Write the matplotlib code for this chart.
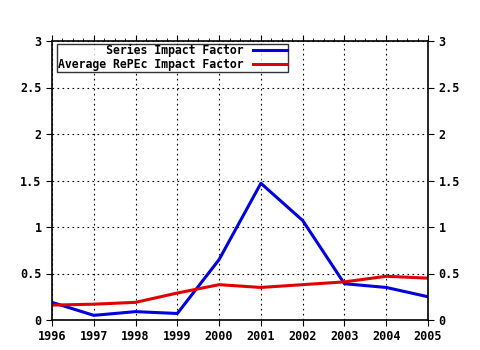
import matplotlib.pyplot as plt
from matplotlib.ticker import MultipleLocator, FormatStrFormatter

years = [1996, 1997, 1998, 1999, 2000, 2001, 2002, 2003, 2004, 2005]
series_if = [0.19, 0.05, 0.09, 0.07, 0.65, 1.47, 1.07, 0.39, 0.35, 0.25]
repec_if = [0.16, 0.17, 0.19, 0.29, 0.38, 0.35, 0.38, 0.41, 0.47, 0.45]
labels = ['Series Impact Factor', 'Average RePEc Impact Factor']

plt.rcParams['font.family'] = 'DejaVu Sans Mono'
plt.rcParams['font.weight'] = 'bold'

fig = plt.figure(figsize=(4.8, 3.5), dpi=100)
ax = fig.add_axes([52 / 480, 30 / 350, 376 / 480, 279 / 350])

ax.plot(years, series_if, color='#0000e0', linewidth=2.2, label=labels[0])
ax.plot(years, repec_if, color='#e00000', linewidth=2.2, label=labels[1])

ax.set_xlim(1996, 2005)
ax.set_ylim(0, 3)
ax.set_xticks(years)
ax.yaxis.set_major_locator(MultipleLocator(0.5))
ax.yaxis.set_major_formatter(FormatStrFormatter('%g'))
ax.xaxis.set_minor_locator(MultipleLocator(0.25))

ax.grid(True, color='black', linestyle=(0, (1.5, 3)), linewidth=0.8)
ax.tick_params(axis='both', which='major', labelsize=8.5, direction='out', length=4,
               color='black')
ax.tick_params(axis='y', right=True, labelright=True)
ax.tick_params(axis='x', which='minor', top=True, bottom=False, direction='out', length=2)
ax.tick_params(axis='x', top=True)
for lbl in ax.get_xticklabels() + ax.get_yticklabels():
    lbl.set_fontweight('bold')

for s in ax.spines.values():
    s.set_linewidth(1.2)
    s.set_color('black')

# pad the shorter label so the monospace texts line up on the right
width = max(len(l) for l in labels)
padded = [l.rjust(width) for l in labels]
handles, _ = ax.get_legend_handles_labels()
leg = ax.legend(handles, padded, loc='upper left', bbox_to_anchor=(0.014, 0.99),
                markerfirst=False, fancybox=False, frameon=True, edgecolor='black',
                fontsize=8.3, handlelength=3.0, borderpad=0.05, labelspacing=0.05,
                handletextpad=0.8, borderaxespad=0)
leg.get_frame().set_linewidth(1.0)
for t in leg.get_texts():
    t.set_fontweight('bold')

fig.savefig('out.png', dpi=100)
